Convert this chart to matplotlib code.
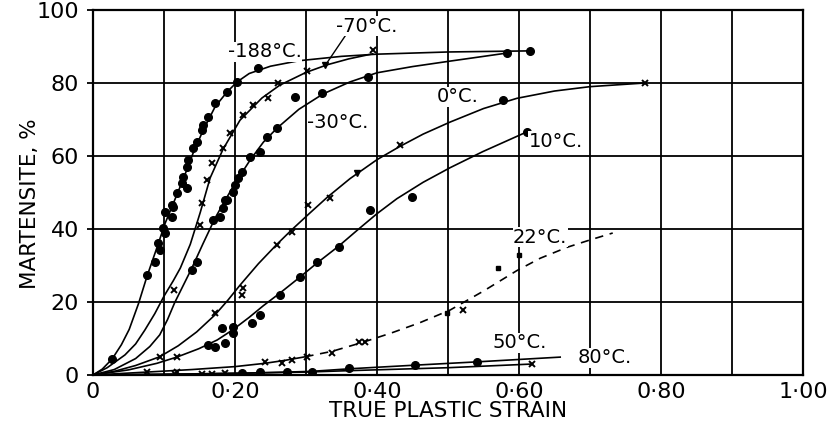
import matplotlib
matplotlib.use("Agg")
import matplotlib.pyplot as plt
import numpy as np

# ---- data ----
# curves (x = true plastic strain, y = martensite %)
c188_x = [0, 0.013, 0.027, 0.040, 0.051, 0.064, 0.076, 0.092, 0.101, 0.111, 0.127, 0.141, 0.155, 0.172, 0.189,
          0.203, 0.220, 0.250, 0.290, 0.350, 0.400, 0.500, 0.615]
c188_y = [0, 1.6, 4.4, 8.3, 12.5, 19.5, 27.0, 36.0, 41.3, 46.0, 53.6, 60.8, 67.0, 73.5, 77.6,
          80.3, 82.6, 84.6, 86.1, 87.3, 87.9, 88.5, 88.8]
c70_x = [0, 0.020, 0.045, 0.060, 0.073, 0.087, 0.100, 0.113, 0.123, 0.137, 0.151, 0.165, 0.183, 0.207, 0.238,
         0.263, 0.300, 0.330, 0.360, 0.394]
c70_y = [0, 2.0, 5.5, 8.5, 12.3, 16.8, 21.6, 25.8, 29.3, 35.8, 44.5, 54.0, 61.8, 69.8, 75.9,
         79.4, 82.9, 85.0, 86.6, 88.0]
c30_x = [0, 0.030, 0.060, 0.080, 0.094, 0.105, 0.115, 0.127, 0.139, 0.155, 0.172, 0.185, 0.197, 0.210, 0.221,
         0.240, 0.259, 0.290, 0.324, 0.362, 0.400, 0.450, 0.503, 0.583]
c30_y = [0, 1.5, 4.5, 7.8, 11.0, 15.2, 19.8, 24.5, 29.2, 36.0, 43.0, 47.5, 51.5, 55.5, 58.8,
         63.8, 67.6, 72.8, 77.0, 80.3, 82.8, 84.5, 86.0, 88.2]
c0_x = [0, 0.030, 0.060, 0.094, 0.120, 0.146, 0.172, 0.190, 0.207, 0.233, 0.259, 0.280, 0.305, 0.330, 0.362,
        0.400, 0.432, 0.465, 0.503, 0.550, 0.597, 0.650, 0.700, 0.777]
c0_y = [0, 1.0, 2.6, 5.0, 8.0, 11.8, 16.5, 20.5, 24.6, 30.5, 35.8, 39.8, 44.3, 48.7, 53.8,
        59.0, 62.6, 66.0, 69.3, 73.0, 75.8, 77.8, 79.0, 80.0]
c10_x = [0, 0.050, 0.090, 0.118, 0.149, 0.175, 0.197, 0.220, 0.240, 0.263, 0.292, 0.315, 0.346, 0.373, 0.400,
         0.428, 0.465, 0.503, 0.549, 0.611]
c10_y = [0, 1.4, 3.2, 4.9, 7.2, 9.6, 12.4, 15.8, 19.0, 22.4, 26.9, 30.6, 35.3, 39.8, 44.2,
         48.3, 52.8, 56.8, 61.2, 66.6]
c22_x = [0, 0.076, 0.140, 0.200, 0.242, 0.270, 0.299, 0.337, 0.379, 0.420, 0.460, 0.503, 0.550, 0.597, 0.630,
         0.668, 0.700, 0.732]
c22_y = [0, 0.8, 1.5, 2.3, 3.2, 4.0, 5.0, 6.5, 8.9, 11.5, 14.3, 17.8, 23.0, 28.6, 32.0,
         35.0, 37.0, 38.9]
c50_x = [0, 0.100, 0.210, 0.273, 0.308, 0.361, 0.454, 0.541, 0.658]
c50_y = [0, 0.2, 0.5, 0.8, 1.0, 1.7, 2.7, 3.6, 4.9]
c80_x = [0, 0.150, 0.300, 0.362, 0.500, 0.618]
c80_y = [0, 0.3, 0.8, 1.2, 2.0, 3.0]

# measured points
m188_x = [0.027, 0.076, 0.087, 0.092, 0.094, 0.099, 0.101, 0.101, 0.111, 0.111, 0.113, 0.118, 0.125, 0.127, 0.132, 0.132,
          0.134, 0.141, 0.146, 0.154, 0.155, 0.162, 0.172, 0.189, 0.203, 0.232, 0.615]
m188_y = [4.4, 27.4, 31.0, 36.2, 34.2, 40.3, 38.9, 44.7, 43.3, 46.6, 46.0, 49.9, 52.6, 54.2, 57.0, 51.2,
          58.9, 62.2, 63.8, 67.1, 68.5, 70.7, 74.5, 77.5, 80.3, 84.1, 88.8]
m70_x = [0.114, 0.151, 0.154, 0.161, 0.168, 0.183, 0.193, 0.211, 0.225, 0.246, 0.261, 0.301, 0.394]
m70_y = [23.3, 41.1, 47.0, 53.4, 58.0, 62.2, 66.3, 71.2, 74.0, 75.9, 80.0, 83.3, 89.0]
tri_x = [0.327, 0.372]
tri_y = [84.8, 55.3]
m30_x = [0.139, 0.146, 0.169, 0.179, 0.183, 0.186, 0.189, 0.197, 0.200, 0.204, 0.210, 0.221, 0.235, 0.245, 0.259,
         0.285, 0.323, 0.387, 0.583]
m30_y = [28.8, 31.0, 42.5, 43.3, 45.8, 47.9, 48.0, 50.1, 52.0, 54.0, 55.6, 59.7, 61.1, 65.2, 67.7,
         76.2, 77.3, 81.6, 88.2]
m0_x = [0.094, 0.118, 0.172, 0.210, 0.211, 0.259, 0.280, 0.303, 0.334, 0.432, 0.777]
m0_y = [4.9, 4.9, 17.0, 21.9, 23.8, 35.6, 39.2, 46.6, 48.5, 63.0, 80.0]
m10_x = [0.162, 0.172, 0.182, 0.186, 0.197, 0.197, 0.224, 0.235, 0.263, 0.292, 0.315, 0.346, 0.390, 0.449, 0.577, 0.611]
m10_y = [8.2, 7.7, 12.9, 8.8, 13.2, 11.5, 14.2, 16.4, 21.9, 26.8, 31.0, 35.1, 45.2, 48.8, 75.3, 66.6]
m22x_x = [0.076, 0.118, 0.242, 0.266, 0.280, 0.301, 0.337, 0.375, 0.383, 0.521]
m22x_y = [0.8, 0.8, 3.6, 3.3, 4.1, 4.9, 6.0, 9.0, 9.0, 17.8]
m22s_x = [0.499, 0.570, 0.600]
m22s_y = [17.0, 29.3, 32.9]
m50_x = [0.210, 0.235, 0.273, 0.308, 0.361, 0.454, 0.541]
m50_y = [0.5, 0.8, 0.8, 0.8, 1.9, 2.7, 3.6]
m80_x = [0.115, 0.154, 0.168, 0.186, 0.618]
m80_y = [0.4, 0.3, 0.4, 0.5, 3.0]

# curve labels
lab_text = ["-188°C.", "-70°C.", "-30°C.", "0°C.", "10°C.", "22°C.", "50°C.", "80°C."]
lab_x = [0.242, 0.386, 0.345, 0.514, 0.652, 0.630, 0.601, 0.721]
lab_y = [88.5, 95.6, 69.3, 76.2, 64.1, 37.8, 8.8, 4.7]
leader_x = [0.358, 0.327]
leader_y = [93.7, 84.8]

xticks = [0, 0.2, 0.4, 0.6, 0.8, 1.0]
xticklabels = ["0", "0·20", "0·40", "0·60", "0·80", "1·00"]
yticks = [0, 20, 40, 60, 80, 100]

fig = plt.figure(figsize=(8.31, 4.34), dpi=100)
ax = fig.add_axes([93 / 831, 1 - 375 / 434, 710 / 831, 365 / 434])

ax.set_xlim(0, 1.0)
ax.set_ylim(0, 100)

# grid: every 0.1 strain, every 20 %
for gx in np.arange(0.1, 1.0, 0.1):
    ax.axvline(gx, color="black", lw=1.3, zorder=1)
for gy in [20, 40, 60, 80]:
    ax.axhline(gy, color="black", lw=1.3, zorder=1)

lw = 1.2
for cx, cy in [(c188_x, c188_y), (c70_x, c70_y), (c30_x, c30_y), (c0_x, c0_y),
               (c10_x, c10_y), (c50_x, c50_y), (c80_x, c80_y)]:
    ax.plot(cx, cy, color="black", lw=lw, zorder=3)

# 22 C: solid near the origin, dashed beyond
c22_x = np.array(c22_x)
c22_y = np.array(c22_y)
ax.plot(c22_x[c22_x <= 0.3], c22_y[c22_x <= 0.3], color="black", lw=lw, zorder=3)
ax.plot(c22_x[c22_x >= 0.299], c22_y[c22_x >= 0.299], color="black", lw=lw,
        ls=(0, (5, 4)), zorder=3)

dot = dict(ls="none", marker="o", color="black", ms=5.5, zorder=4)
cross = dict(ls="none", marker="x", color="black", ms=4.5, mew=1.4, zorder=4)
ax.plot(m188_x, m188_y, **dot)
ax.plot(m30_x, m30_y, **dot)
ax.plot(m10_x, m10_y, **dot)
ax.plot(m50_x, m50_y, **dot)
ax.plot(m70_x, m70_y, **cross)
ax.plot(m0_x, m0_y, **cross)
ax.plot(m22x_x, m22x_y, **cross)
ax.plot(m80_x, m80_y, **cross)
ax.plot(m22s_x, m22s_y, ls="none", marker="s", color="black", ms=3.5, zorder=4)
ax.plot(tri_x, tri_y, ls="none", marker="v", color="black", ms=5, zorder=4)

for t, x, y in zip(lab_text, lab_x, lab_y):
    ax.text(x, y, t, fontsize=14, ha="center", va="center", zorder=5,
            bbox=dict(facecolor="white", edgecolor="none", pad=0.3))
ax.plot(leader_x, leader_y, color="black", lw=1.0, zorder=3)

ax.set_xticks(xticks)
ax.set_xticklabels(xticklabels)
ax.set_yticks(yticks)
ax.tick_params(axis="both", labelsize=16, length=4, width=1.3, color="black")
ax.tick_params(axis="x", length=0, pad=5)
ax.tick_params(axis="y", pad=6)

for s in ax.spines.values():
    s.set_linewidth(1.6)

ax.set_xlabel("TRUE PLASTIC STRAIN", fontsize=15.5)
ax.xaxis.set_label_coords(0.5, -0.07)
ax.set_ylabel("MARTENSITE, %", fontsize=15.5)
ax.yaxis.set_label_coords(-0.075, 0.47)

fig.savefig("out.png", dpi=100)
